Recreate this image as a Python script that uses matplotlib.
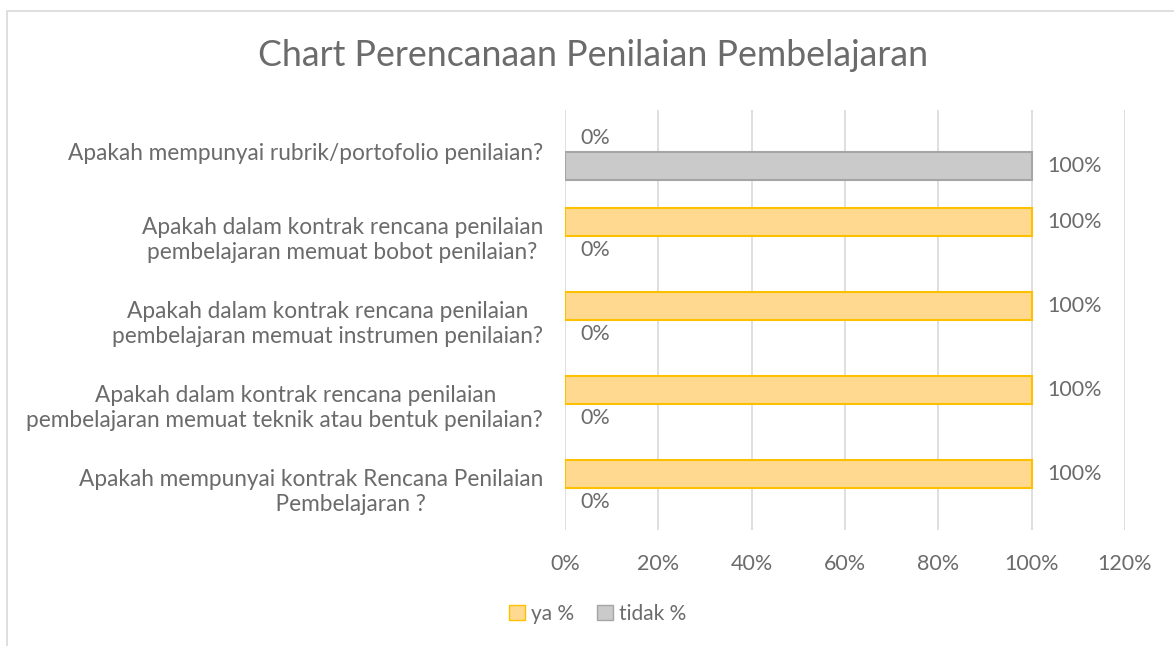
import matplotlib
matplotlib.use("Agg")
import matplotlib.pyplot as plt
from matplotlib.patches import Rectangle, Patch
import numpy as np

categories = [
    "Apakah mempunyai kontrak Rencana Penilaian\n" + " " * 14 + "Pembelajaran ?",
    "    Apakah dalam kontrak rencana penilaian\npembelajaran memuat teknik atau bentuk penilaian?",
    "Apakah dalam kontrak rencana penilaian\npembelajaran memuat instrumen penilaian?",
    "Apakah dalam kontrak rencana penilaian\npembelajaran memuat bobot penilaian?",
    "Apakah mempunyai rubrik/portofolio penilaian?",
]
ya = [100, 100, 100, 100, 0]
tidak = [0, 0, 0, 0, 100]
xticks = [0, 20, 40, 60, 80, 100, 120]

plt.rcParams['font.family'] = ['Lato', 'DejaVu Sans']
txt = '#6B6B6B'

fig = plt.figure(figsize=(11.74, 6.46), dpi=100)
W, H = 1174, 646
ax = fig.add_axes([565 / W, 1 - 530 / H, (1125 - 565) / W, (530 - 110) / H])

y = np.arange(len(categories))
h = 1 / 3
ya_lw = [1.5 if v > 0 else 0 for v in ya]
ti_lw = [1.5 if v > 0 else 0 for v in tidak]
ax.barh(y + h / 2, ya, height=h, color='#FFD98F', edgecolor='#FFC000', linewidth=ya_lw, zorder=3)
ax.barh(y - h / 2, tidak, height=h, color='#CACACA', edgecolor='#A5A5A5', linewidth=ti_lw, zorder=3)

num_fs = 15.5
for i in range(len(categories)):
    ax.annotate(f"{ya[i]}%", (ya[i], y[i] + h / 2), xytext=(11, 0), textcoords='offset points',
                ha='left', va='center', fontsize=num_fs, color=txt)
    ax.annotate(f"{tidak[i]}%", (tidak[i], y[i] - h / 2), xytext=(11, 0), textcoords='offset points',
                ha='left', va='center', fontsize=num_fs, color=txt)

ax.set_xlim(0, 120)
ax.set_ylim(-0.5, len(categories) - 0.5)
ax.set_xticks(xticks)
ax.set_xticklabels([f"{t}%" for t in xticks], fontsize=num_fs)
ax.set_yticks(y)
ax.set_yticklabels(categories, multialignment='center', fontsize=16.3, linespacing=1.25)
ax.tick_params(axis='both', length=0, colors=txt)
ax.tick_params(axis='x', pad=17)
ax.tick_params(axis='y', pad=16)
for s in ax.spines.values():
    s.set_visible(False)
ax.grid(axis='x', color='#D9D9D9', linewidth=1.2, zorder=0)
ax.set_axisbelow(True)

fig.text(593 / W, 1 - 56 / H, "Chart Perencanaan Penilaian Pembelajaran", ha='center', va='center',
         fontsize=25.7, color=txt)

handles = [Patch(facecolor='#FFD98F', edgecolor='#FFC000', label='ya %'),
           Patch(facecolor='#CACACA', edgecolor='#A5A5A5', label='tidak %')]
fig.legend(handles=handles, loc='center', bbox_to_anchor=(598 / W, 1 - 614 / H), ncol=2, frameon=False,
           fontsize=15, labelcolor=txt, handlelength=0.75, handleheight=0.75, handletextpad=0.3,
           columnspacing=1.1)

fig.patches.append(Rectangle((7 / W, -0.1), 1.2, 1.1 - 11 / H, transform=fig.transFigure,
                             fill=False, edgecolor='#D9D9D9', linewidth=1.2))

fig.savefig('out.png', dpi=100)
